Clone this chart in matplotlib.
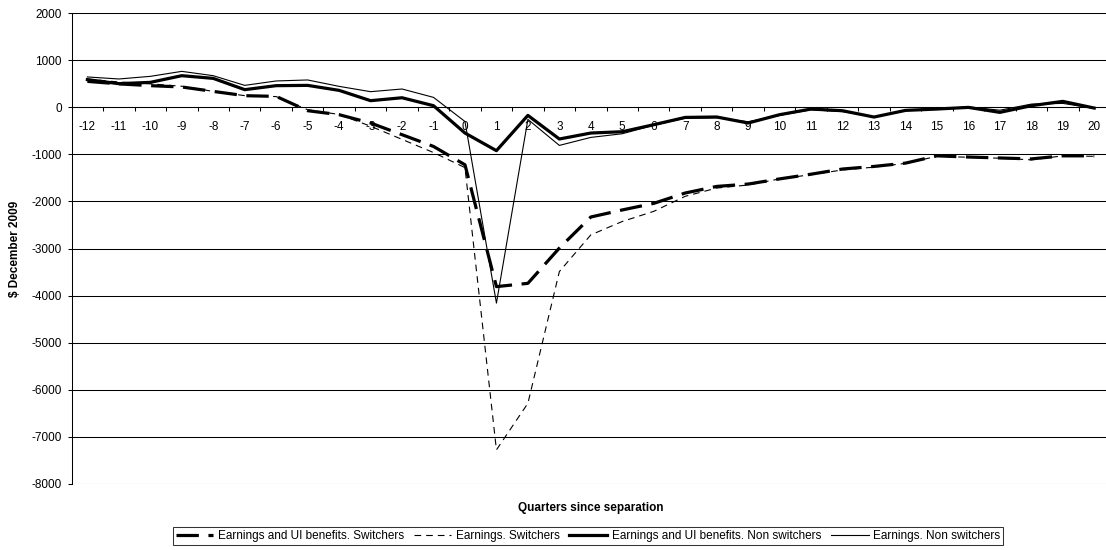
import numpy as np
import matplotlib.pyplot as plt
from matplotlib.lines import Line2D

plt.rcParams['font.family'] = ['Liberation Sans', 'DejaVu Sans']
plt.rcParams['axes.unicode_minus'] = False

# Quarters relative to the separation quarter
quarters = list(range(-12, 21))

# Earnings and UI benefits, switchers
ui_switchers = [553, 500, 462, 434, 340, 249, 234, -70, -155, -332,
                -580, -830, -1220, -3810, -3740, -2990, -2330, -2180,
                -2040, -1820, -1680, -1630, -1520, -1420, -1310, -1255,
                -1185, -1030, -1055, -1075, -1095, -1030, -1030]

# Earnings only, switchers
earn_switchers = [600, 540, 500, 450, 340, 250, 230, -50, -150, -400,
                  -680, -960, -1280, -7280, -6290, -3490, -2710, -2425,
                  -2210, -1890, -1715, -1650, -1520, -1430, -1330, -1270,
                  -1190, -1040, -1060, -1080, -1115, -1030, -1040]

# Earnings and UI benefits, non switchers
ui_stayers = [590, 504, 532, 674, 617, 377, 462, 468, 362, 143,
              205, 36, -545, -920, -170, -672, -545, -517, -368, -213,
              -204, -332, -155, -35, -71, -205, -64, -35, 0, -106, 36,
              128, -14]

# Earnings only, non switchers
earn_stayers = [647, 604, 660, 766, 674, 468, 562, 583, 447, 334,
                391, 213, -300, -4160, -255, -808, -638, -560, -380, -230,
                -220, -305, -170, -50, -90, -200, -60, -30, 10, -60, 70,
                85, -20]

thick_dash = dict(color='black', lw=2.3, dashes=(7, 3))
thin_dash = dict(color='black', lw=0.8, dashes=(6, 4.5))
thick_solid = dict(color='black', lw=2.3)
thin_solid = dict(color='black', lw=0.8)

fig = plt.figure(figsize=(11.06, 5.5), dpi=100)
ax = fig.add_axes([0.0648, 0.1205, 0.9388, 0.8553])

ax.plot(quarters, ui_switchers, **thick_dash)
ax.plot(quarters, earn_switchers, **thin_dash)
ax.plot(quarters, ui_stayers, **thick_solid)
ax.plot(quarters, earn_stayers, **thin_solid)

ax.set_xlim(-12.5, 20.5)
ax.set_ylim(-8000, 2000)
ax.set_yticks(np.arange(-8000, 2001, 1000))
ax.grid(axis='y', color='black', lw=0.75)
ax.set_axisbelow(True)

# category axis crossing at zero, labels just under it
ax.spines['top'].set_visible(False)
ax.spines['right'].set_visible(False)
ax.spines['bottom'].set_position(('data', 0))
ax.spines['bottom'].set_linewidth(0.75)
ax.spines['left'].set_linewidth(0.75)
ax.set_xticks(quarters)
ax.set_xticklabels([str(q) for q in quarters])
ax.set_xticks(np.arange(-11.5, 20.6, 1), minor=True)
ax.tick_params(axis='x', which='major', length=0, pad=9.5, labelsize=8.5)
ax.tick_params(axis='x', which='minor', length=3, width=0.75, direction='out')
ax.tick_params(axis='y', length=3, width=0.75, pad=4, labelsize=8.5)

ax.set_ylabel('$ December 2009', fontsize=8.5, fontweight='bold')
ax.yaxis.set_label_coords(-0.0488, 0.5)

fig.text(591 / 1106, 1 - 508 / 550, 'Quarters since separation',
         ha='center', va='center', fontsize=8.5, fontweight='bold')

handles = [Line2D([], [], **thick_dash), Line2D([], [], **thin_dash),
           Line2D([], [], **thick_solid), Line2D([], [], **thin_solid)]
labels = ['Earnings and UI benefits. Switchers', 'Earnings. Switchers',
          'Earnings and UI benefits. Non switchers', 'Earnings. Non switchers']
leg = fig.legend(handles, labels, loc='center', ncol=4,
                 bbox_to_anchor=(588 / 1106, 1 - 536 / 550),
                 fontsize=8.5, frameon=True, fancybox=False,
                 edgecolor='black', handlelength=3.2, handletextpad=0.4,
                 columnspacing=0.8, borderpad=0.25, borderaxespad=0)
leg.get_frame().set_linewidth(0.75)

fig.savefig('out.png', dpi=100)
